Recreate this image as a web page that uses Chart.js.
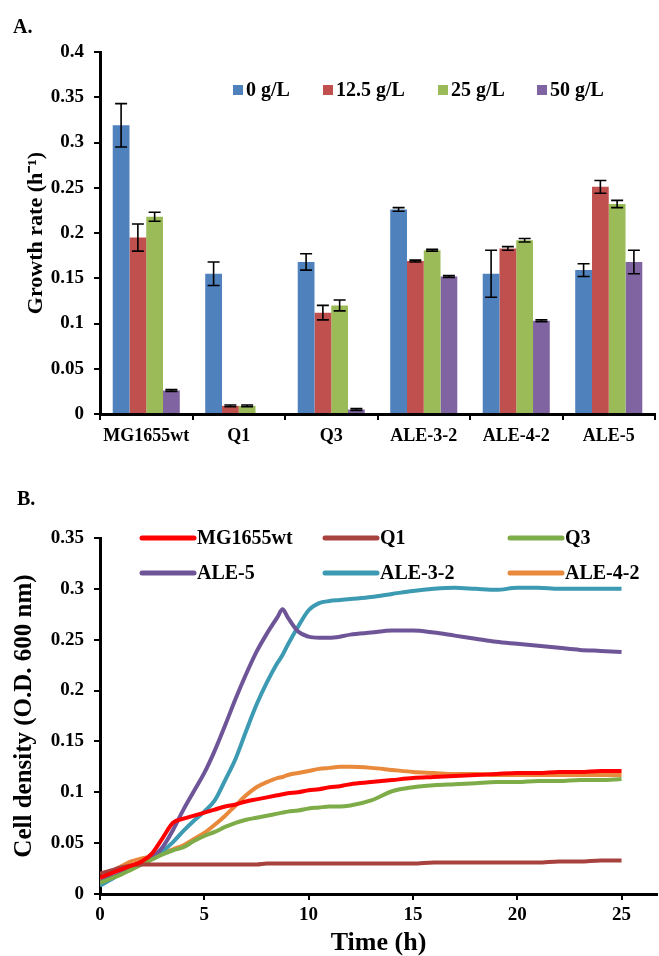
<!DOCTYPE html>
<html>
<head>
<meta charset="utf-8">
<script src="https://cdn.jsdelivr.net/npm/chart.js@4.4.1/dist/chart.umd.min.js"></script>
<style>
  html, body { margin: 0; padding: 0; background: #fff; overflow: hidden; }
  #boxA { position: absolute; left: 0; top: 0; width: 659px; height: 460px; }
  #boxB { position: absolute; left: 0; top: 460px; width: 659px; height: 496px; }
</style>
</head>
<body>
<div id="boxA"><canvas id="chartA"></canvas></div>
<div id="boxB"><canvas id="chartB"></canvas></div>
<script>
// ---- panel A: growth rates ----
const strains = ['MG1655wt', 'Q1', 'Q3', 'ALE-3-2', 'ALE-4-2', 'ALE-5'];
const concLabels = ['0 g/L', '12.5 g/L', '25 g/L', '50 g/L'];
const rate0   = [0.319, 0.155, 0.168, 0.226, 0.155, 0.159];
const rate125 = [0.195, 0.009, 0.112, 0.169, 0.183, 0.251];
const rate25  = [0.218, 0.009, 0.120, 0.181, 0.192, 0.232];
const rate50  = [0.026, 0, 0.005, 0.152, 0.103, 0.168];
const err0    = [0.024, 0.013, 0.009, 0.002, 0.026, 0.007];
const err125  = [0.015, 0.001, 0.008, 0.001, 0.002, 0.007];
const err25   = [0.005, 0.001, 0.006, 0.001, 0.002, 0.004];
const err50   = [0.001, 0, 0.001, 0.001, 0.001, 0.013];

// ---- panel B: growth curves ----
const timeTicks = [0, 5, 10, 15, 20, 25];
const hours = [0, 0.5, 1, 1.5, 2, 2.5, 3, 3.5, 4, 4.5, 5, 5.5, 6, 6.5, 7, 7.5, 8, 8.5, 8.75, 9, 9.5,
  10, 10.5, 11, 11.5, 12, 13, 14, 15, 16, 17, 18, 19, 20, 21, 22, 23, 24, 25];
const odMG1655wt = [0.016, 0.020, 0.024, 0.028, 0.032, 0.040, 0.055, 0.070, 0.074, 0.077, 0.080, 0.083, 0.086, 0.088, 0.091, 0.093, 0.095, 0.097, 0.098, 0.099, 0.100,
  0.102, 0.103, 0.105, 0.106, 0.108, 0.110, 0.112, 0.114, 0.115, 0.116, 0.117, 0.118, 0.119, 0.119, 0.120, 0.120, 0.121, 0.121];
const odQ1 = [0.020, 0.023, 0.026, 0.028, 0.029, 0.029, 0.029, 0.029, 0.029, 0.029, 0.029, 0.029, 0.029, 0.029, 0.029, 0.029, 0.030, 0.030, 0.030, 0.030, 0.030,
  0.030, 0.030, 0.030, 0.030, 0.030, 0.030, 0.030, 0.030, 0.031, 0.031, 0.031, 0.031, 0.031, 0.031, 0.032, 0.032, 0.033, 0.033];
const odQ3 = [0.011, 0.015, 0.019, 0.024, 0.029, 0.034, 0.039, 0.043, 0.046, 0.052, 0.057, 0.061, 0.066, 0.070, 0.073, 0.075, 0.077, 0.079, 0.080, 0.081, 0.082,
  0.084, 0.085, 0.086, 0.086, 0.087, 0.092, 0.101, 0.105, 0.107, 0.108, 0.109, 0.110, 0.110, 0.111, 0.111, 0.112, 0.112, 0.113];
const odALE5 = [0.012, 0.016, 0.020, 0.025, 0.030, 0.036, 0.046, 0.063, 0.083, 0.101, 0.119, 0.141, 0.166, 0.192, 0.216, 0.238, 0.256, 0.272, 0.280, 0.272, 0.258,
  0.253, 0.252, 0.252, 0.253, 0.255, 0.257, 0.259, 0.259, 0.257, 0.254, 0.251, 0.248, 0.246, 0.244, 0.242, 0.240, 0.239, 0.238];
const odALE32 = [0.008, 0.014, 0.020, 0.025, 0.030, 0.035, 0.042, 0.051, 0.062, 0.072, 0.081, 0.092, 0.112, 0.133, 0.160, 0.186, 0.208, 0.227, 0.235, 0.245, 0.263,
  0.279, 0.286, 0.288, 0.289, 0.290, 0.292, 0.295, 0.298, 0.300, 0.301, 0.300, 0.299, 0.301, 0.301, 0.300, 0.300, 0.300, 0.300];
const odALE42 = [0.013, 0.021, 0.027, 0.032, 0.035, 0.037, 0.040, 0.044, 0.048, 0.054, 0.060, 0.068, 0.077, 0.087, 0.097, 0.105, 0.110, 0.114, 0.115, 0.117, 0.119,
  0.121, 0.123, 0.124, 0.125, 0.125, 0.124, 0.122, 0.120, 0.119, 0.118, 0.118, 0.117, 0.117, 0.117, 0.117, 0.117, 0.117, 0.117];

const FONT = '"Liberation Serif", "Times New Roman", serif';
Chart.defaults.font.family = FONT;
Chart.defaults.font.weight = 'bold';
Chart.defaults.color = '#000';

function pts(arr) {
  return hours.map((t, i) => ({ x: t, y: arr[i] }));
}

// excel style labels: 0, 0.05, 0.1 ...
const shortNum = v => String(+v.toFixed(2));

const errorBars = {
  id: 'errorBars',
  afterDatasetsDraw(chart) {
    const ctx = chart.ctx;
    const y = chart.scales.y;
    ctx.save();
    ctx.strokeStyle = '#000';
    ctx.lineWidth = 1.6;
    chart.data.datasets.forEach((ds, i) => {
      chart.getDatasetMeta(i).data.forEach((bar, j) => {
        const e = ds.errors[j];
        if (!e) return;
        const v = ds.data[j];
        const top = y.getPixelForValue(v + e);
        const bot = y.getPixelForValue(v - e);
        ctx.beginPath();
        ctx.moveTo(bar.x, top); ctx.lineTo(bar.x, bot);
        ctx.moveTo(bar.x - 6, top); ctx.lineTo(bar.x + 6, top);
        ctx.moveTo(bar.x - 6, bot); ctx.lineTo(bar.x + 6, bot);
        ctx.stroke();
      });
    });
    ctx.restore();
  }
};

const legendA = {
  id: 'legendA',
  afterDraw(chart) {
    const ctx = chart.ctx;
    const xs = [233, 323, 438, 537];
    const y = 90;
    ctx.save();
    ctx.font = 'bold 20px ' + FONT;
    ctx.textBaseline = 'middle';
    chart.data.datasets.forEach((ds, i) => {
      ctx.fillStyle = ds.backgroundColor;
      ctx.fillRect(xs[i], y - 5, 10, 10);
      ctx.fillStyle = '#000';
      ctx.fillText(ds.label, xs[i] + 13, y + 1);
    });
    ctx.textBaseline = 'alphabetic';
    ctx.fillText('A.', 13, 33);
    ctx.restore();
  }
};

const legendB = {
  id: 'legendB',
  afterDraw(chart) {
    const ctx = chart.ctx;
    const cols = [142, 325, 510];
    const rows = [78, 113];
    ctx.save();
    ctx.font = 'bold 20px ' + FONT;
    ctx.textBaseline = 'middle';
    ctx.lineCap = 'round';
    chart.data.datasets.forEach((ds, i) => {
      const x = cols[i % 3], y = rows[Math.floor(i / 3)];
      ctx.strokeStyle = ds.borderColor;
      ctx.lineWidth = 5;
      ctx.beginPath();
      ctx.moveTo(x, y); ctx.lineTo(x + 52, y);
      ctx.stroke();
      ctx.fillStyle = '#000';
      ctx.fillText(ds.label, x + 55, y + 1);
    });
    ctx.textBaseline = 'alphabetic';
    ctx.fillText('B.', 17, 45);
    ctx.restore();
  }
};

const axisGrid = { drawOnChartArea: false, drawTicks: true, tickLength: 6, color: '#000', lineWidth: 2 };
const axisBorder = { display: true, color: '#000', width: 3 };

new Chart(document.getElementById('chartA'), {
  type: 'bar',
  data: {
    labels: strains,
    datasets: [
      { label: concLabels[0], data: rate0, errors: err0, backgroundColor: '#4F81BD' },
      { label: concLabels[1], data: rate125, errors: err125, backgroundColor: '#C0504D' },
      { label: concLabels[2], data: rate25, errors: err25, backgroundColor: '#9BBB59' },
      { label: concLabels[3], data: rate50, errors: err50, backgroundColor: '#8064A2' }
    ]
  },
  options: {
    responsive: true,
    maintainAspectRatio: false,
    animation: false,
    layout: { padding: { top: 52, right: 4, left: 0, bottom: 0 } },
    datasets: { bar: { categoryPercentage: 0.725, barPercentage: 1.0 } },
    plugins: { legend: { display: false }, tooltip: { enabled: false } },
    scales: {
      x: {
        grid: axisGrid,
        border: axisBorder,
        ticks: { font: { size: 18 }, padding: 6, maxRotation: 0 },
        afterFit: s => { s.height = 46; }
      },
      y: {
        min: 0, max: 0.4,
        grid: axisGrid,
        border: axisBorder,
        ticks: { stepSize: 0.05, font: { size: 19 }, padding: 10, callback: shortNum },
        title: { display: true, text: 'Growth rate (h⁻¹)', font: { size: 22 }, padding: { top: 23, bottom: 0 } },
        afterFit: s => { s.width = 100; }
      }
    }
  },
  plugins: [errorBars, legendA]
});

new Chart(document.getElementById('chartB'), {
  type: 'line',
  data: {
    datasets: [
      { label: 'MG1655wt', data: pts(odMG1655wt), borderColor: '#FF0000' },
      { label: 'Q1', data: pts(odQ1), borderColor: '#A8423F' },
      { label: 'Q3', data: pts(odQ3), borderColor: '#7EAC48' },
      { label: 'ALE-5', data: pts(odALE5), borderColor: '#6E5598' },
      { label: 'ALE-3-2', data: pts(odALE32), borderColor: '#3D9AB3' },
      { label: 'ALE-4-2', data: pts(odALE42), borderColor: '#E8893C' }
    ]
  },
  options: {
    responsive: true,
    maintainAspectRatio: false,
    animation: false,
    layout: { padding: { top: 78, right: 2, left: 0, bottom: 0 } },
    elements: {
      line: { borderWidth: 4, cubicInterpolationMode: 'monotone', fill: false },
      point: { radius: 0 }
    },
    plugins: { legend: { display: false }, tooltip: { enabled: false } },
    scales: {
      x: {
        type: 'linear',
        min: 0, max: 26.7,
        grid: axisGrid,
        border: axisBorder,
        ticks: { font: { size: 19 }, padding: 4 },
        afterBuildTicks: s => { s.ticks = timeTicks.map(v => ({ value: v })); },
        title: { display: true, text: 'Time (h)', font: { size: 26, lineHeight: 1 }, padding: { top: 0, bottom: 0 } },
        afterFit: s => { s.height = 62; }
      },
      y: {
        min: 0, max: 0.35,
        grid: axisGrid,
        border: axisBorder,
        ticks: { stepSize: 0.05, font: { size: 19 }, padding: 10, callback: shortNum },
        title: { display: true, text: 'Cell density (O.D. 600 nm)', font: { size: 25 }, padding: { top: 10, bottom: 0 } },
        afterFit: s => { s.width = 100; }
      }
    }
  },
  plugins: [legendB]
});
</script>
</body>
</html>
